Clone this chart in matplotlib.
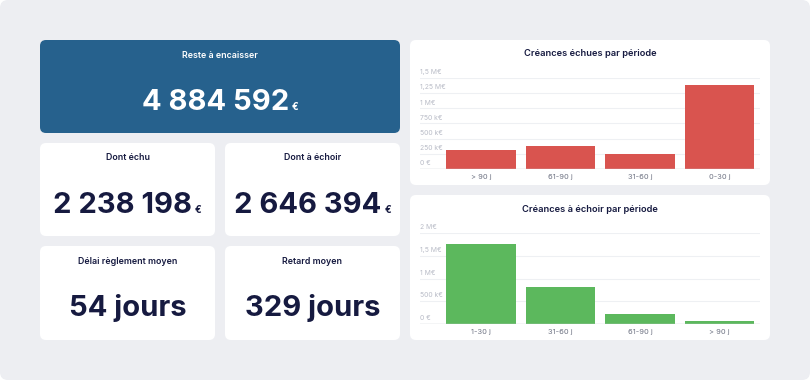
import matplotlib
matplotlib.use('Agg')
import matplotlib.pyplot as plt
from matplotlib.patches import FancyBboxPatch
import matplotlib.transforms as mtransforms

plt.rcParams['font.family'] = ['Inter', 'DejaVu Sans']

# data
kpi_titles = ['Reste à encaisser', 'Dont échu', 'Dont à échoir', 'Délai règlement moyen', 'Retard moyen']
kpi_values = ['4 884 592', '2 238 198', '2 646 394', '54 jours', '329 jours']
kpi_units = ['€', '€', '€', '', '']

echues_labels = ['> 90 j', '61-90 j', '31-60 j', '0-30 j']
echues_values = [320000, 385000, 255000, 1390000]
echues_ticks = [0, 250000, 500000, 750000, 1000000, 1250000, 1500000]
echues_tick_labels = ['0 €', '250 k€', '500 k€', '750 k€', '1 M€', '1,25 M€', '1,5 M€']

echoir_labels = ['1-30 j', '31-60 j', '61-90 j', '> 90 j']
echoir_values = [1765000, 820000, 228000, 73000]
echoir_ticks = [0, 500000, 1000000, 1500000, 2000000]
echoir_tick_labels = ['0 €', '500 k€', '1 M€', '1,5 M€', '2 M€']

W, H = 810, 380
BG = '#edeef2'
BLUE = '#26618d'
NAVY = '#161a40'
RED = '#d9544f'
GREEN = '#5cb85d'

fig = plt.figure(figsize=(W / 100, H / 100), dpi=100)
fig.patch.set_facecolor('white')
bg = fig.add_axes([0, 0, 1, 1])
bg.set_xlim(0, W)
bg.set_ylim(H, 0)
bg.axis('off')


def card(x, y, w, h, color='white', r=6):
    p = FancyBboxPatch((x, y), w, h, boxstyle=f'round,pad=0,rounding_size={r}',
                       facecolor=color, edgecolor='none')
    bg.add_patch(p)


card(0, 0, W, H, BG, r=8)

# kpi cards: (x, y, w, h)
boxes = [(40, 40, 360, 93), (40, 143, 175, 93), (225, 143, 175, 93),
         (40, 246, 175, 94), (225, 246, 175, 94)]

fig.canvas.draw()
renderer = fig.canvas.get_renderer()

for i, (x, y, w, h) in enumerate(boxes):
    col = BLUE if i == 0 else 'white'
    fg = 'white' if i == 0 else NAVY
    card(x, y, w, h, col)
    bg.text(x + w / 2, y + 15, kpi_titles[i], ha='center', va='center',
            fontsize=6.4, fontweight='semibold', color=fg)
    cy = y + 70
    t = bg.text(0, cy, kpi_values[i], ha='left', va='baseline',
                fontsize=21, fontweight='bold', color=fg)
    tw = t.get_window_extent(renderer).width
    if kpi_units[i]:
        u = bg.text(0, cy, kpi_units[i], ha='left', va='baseline',
                    fontsize=7, fontweight='bold', color=fg)
        uw = u.get_window_extent(renderer).width
        gap = 3
        x0 = x + w / 2 - (tw + gap + uw) / 2
        t.set_x(x0)
        u.set_x(x0 + tw + gap)
    else:
        t.set_x(x + w / 2 - tw / 2)

# charts
card(410, 40, 360, 145)
card(410, 195, 360, 145)


def bar_chart(top, bottom, title, title_y, labels, values, ticks, tick_labels, color):
    ax = fig.add_axes([420 / W, 1 - bottom / H, 340 / W, (bottom - top) / H])
    ax.set_facecolor('none')
    xs = range(len(labels))
    ax.bar(xs, values, width=0.875, color=color, zorder=3)
    ax.set_xlim(-0.767, 3.51)
    ax.set_ylim(0, ticks[-1])
    for s in ax.spines.values():
        s.set_visible(False)
    ax.axhline(0, color='#c9ccd4', lw=1, zorder=4)
    for tk in ticks[1:]:
        ax.axhline(tk, color='#eef0f3', lw=0.8, zorder=1)
    trans = mtransforms.blended_transform_factory(ax.transAxes, ax.transData)
    off = mtransforms.offset_copy(trans, fig=fig, x=0, y=2, units='points')
    for tk, lb in zip(ticks, tick_labels):
        ax.text(0, tk, lb, transform=off, ha='left', va='bottom',
                fontsize=4.9, color='#b9bcc7', zorder=2)
    ax.set_xticks(list(xs))
    ax.set_xticklabels(labels, fontsize=5.4, color='#6e7383')
    ax.tick_params(axis='x', length=0, pad=3.5)
    ax.set_yticks([])
    bg.text(590, title_y, title, ha='center', va='center',
            fontsize=6.7, fontweight='semibold', color=NAVY)


bar_chart(78, 169, 'Créances échues par période', 54, echues_labels, echues_values,
          echues_ticks, echues_tick_labels, RED)
bar_chart(233, 324, 'Créances à échoir par période', 209, echoir_labels, echoir_values,
          echoir_ticks, echoir_tick_labels, GREEN)

fig.savefig('out.png', dpi=100, facecolor=fig.get_facecolor())
